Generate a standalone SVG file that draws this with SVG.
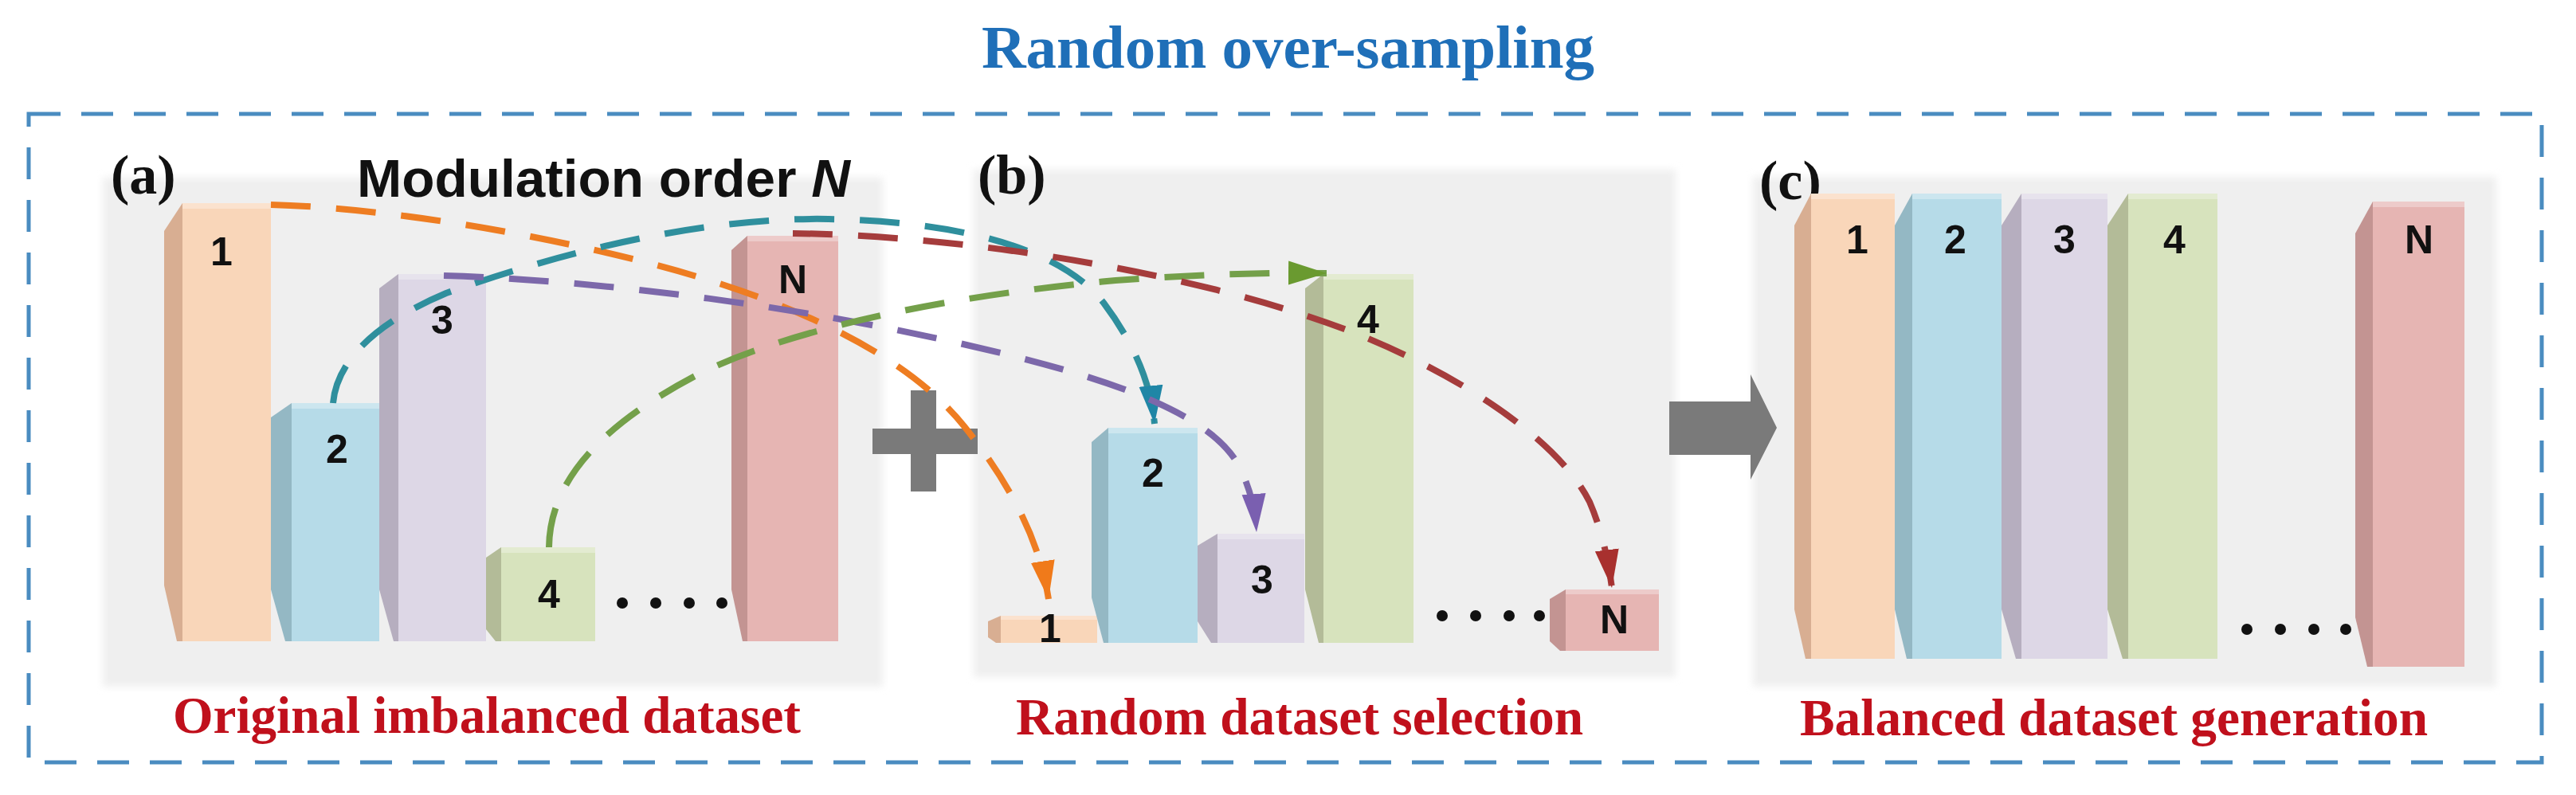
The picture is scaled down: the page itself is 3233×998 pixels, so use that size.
<svg xmlns="http://www.w3.org/2000/svg" width="3233" height="998" viewBox="0 0 3233 998">
<style>
.panel{fill:#efefef;filter:url(#soft)}
.lbl{font-family:"Liberation Sans",Arial,sans-serif;font-weight:bold;font-size:50px;fill:#111;text-anchor:middle}
.pl{font-family:"Liberation Serif","Times New Roman",serif;font-weight:bold;font-size:70px;fill:#111}
.cap{font-family:"Liberation Serif","Times New Roman",serif;font-weight:bold;font-size:65px;fill:#c0101c}
.conn{fill:none;stroke-width:8;stroke-dasharray:50 32;stroke-linecap:butt}
.top{fill:#ffffff;opacity:.3}
.dot{fill:#111}
.gray{fill:#7a7a7a}
.c1f{fill:#f9d6b9}.c1s{fill:#d8ae92}
.c2f{fill:#b6dbe8}.c2s{fill:#94b8c4}
.c3f{fill:#ddd7e6}.c3s{fill:#b6aebf}
.c4f{fill:#d7e3bd}.c4s{fill:#b3bb98}
.cNf{fill:#e6b5b3}.cNs{fill:#c39492}
</style>
<defs>
<filter id="soft" x="-2%" y="-2%" width="104%" height="104%"><feGaussianBlur stdDeviation="5"/></filter>
<marker id="hO" markerUnits="userSpaceOnUse" markerWidth="52" markerHeight="36" refX="48" refY="17" orient="auto"><path d="M0,2 L48,17 L0,32 Z" fill="#f07a1a"/></marker>
<marker id="hT" markerUnits="userSpaceOnUse" markerWidth="52" markerHeight="36" refX="48" refY="17" orient="auto"><path d="M0,2 L48,17 L0,32 Z" fill="#1f86a6"/></marker>
<marker id="hP" markerUnits="userSpaceOnUse" markerWidth="52" markerHeight="36" refX="48" refY="17" orient="auto"><path d="M0,2 L48,17 L0,32 Z" fill="#7a5fb0"/></marker>
<marker id="hG" markerUnits="userSpaceOnUse" markerWidth="52" markerHeight="36" refX="48" refY="17" orient="auto"><path d="M0,2 L48,17 L0,32 Z" fill="#6a9a30"/></marker>
<marker id="hR" markerUnits="userSpaceOnUse" markerWidth="52" markerHeight="36" refX="48" refY="17" orient="auto"><path d="M0,2 L48,17 L0,32 Z" fill="#a8302e"/></marker>
</defs>
<rect width="3233" height="998" fill="#ffffff"/>

<g id="frame">
<rect x="36" y="143" width="3154" height="814" fill="none" stroke="#4a8cc0" stroke-width="5" stroke-dasharray="40 26"/>
<text x="1232" y="85" textLength="769" lengthAdjust="spacingAndGlyphs" style="font-family:'Liberation Serif','Times New Roman',serif;font-weight:bold;font-size:77px;fill:#1f6fb8">Random over-sampling</text>
</g>

<g id="panel-a">
<rect class="panel" x="129" y="223" width="979" height="639"/>
<text class="pl" x="139" y="243">(a)</text>
<text x="448" y="247" textLength="619" lengthAdjust="spacingAndGlyphs" style="font-family:'Liberation Sans',Arial,sans-serif;font-weight:bold;font-size:67px;fill:#111">Modulation order <tspan font-style="italic">N</tspan></text>
<text class="cap" x="217" y="920" textLength="788" lengthAdjust="spacingAndGlyphs">Original imbalanced dataset</text>
</g>
<g id="panel-b">
<rect class="panel" x="1222" y="213" width="881" height="637"/>
<text class="pl" x="1227" y="243">(b)</text>
<text class="cap" x="1275" y="922" textLength="712" lengthAdjust="spacingAndGlyphs">Random dataset selection</text>
</g>
<g id="panel-c">
<rect class="panel" x="2200" y="222" width="933" height="640"/>
<text class="pl" x="2208" y="250">(c)</text>
<text class="cap" x="2259" y="923" textLength="788" lengthAdjust="spacingAndGlyphs">Balanced dataset generation</text>
</g>

<g id="a-bar1"><polygon class="c1s" points="229,255 206,290 206,735 222,805 229,805"/><rect class="c1f" x="229" y="255" width="111" height="550"/><rect class="top" x="229" y="255" width="111" height="7"/><text class="lbl" x="278" y="333">1</text></g>
<g id="a-bar2"><polygon class="c2s" points="366,506 340,524 340,740 358,805 366,805"/><rect class="c2f" x="366" y="506" width="110" height="299"/><rect class="top" x="366" y="506" width="110" height="7"/><text class="lbl" x="423" y="581">2</text></g>
<g id="a-bar3"><polygon class="c3s" points="500,344 476,362 476,740 494,805 500,805"/><rect class="c3f" x="500" y="344" width="110" height="461"/><rect class="top" x="500" y="344" width="110" height="7"/><text class="lbl" x="555" y="419">3</text></g>
<g id="a-bar4"><polygon class="c4s" points="629,687 610,700 610,790 622,805 629,805"/><rect class="c4f" x="629" y="687" width="118" height="118"/><rect class="top" x="629" y="687" width="118" height="7"/><text class="lbl" x="689" y="763">4</text></g>
<g id="a-dots"><circle class="dot" cx="781" cy="757" r="7"/><circle class="dot" cx="823" cy="757" r="7"/><circle class="dot" cx="865" cy="757" r="7"/><circle class="dot" cx="906" cy="757" r="7"/></g>
<g id="a-barN"><polygon class="cNs" points="938,296 918,314 918,740 932,805 938,805"/><rect class="cNf" x="938" y="296" width="114" height="509"/><rect class="top" x="938" y="296" width="114" height="7"/><text class="lbl" x="995" y="368">N</text></g>

<g id="plus"><rect class="gray" x="1095" y="538" width="132" height="32"/><rect class="gray" x="1143" y="490" width="32" height="127"/></g>

<g id="b-bar1"><polygon class="c1s" points="1256,773 1240,780 1240,800 1250,807 1256,807"/><rect class="c1f" x="1256" y="773" width="121" height="34"/><rect class="top" x="1256" y="773" width="121" height="5"/><text class="lbl" x="1318" y="806">1</text></g>
<g id="b-bar2"><polygon class="c2s" points="1391,537 1370,555 1370,750 1385,807 1391,807"/><rect class="c2f" x="1391" y="537" width="112" height="270"/><rect class="top" x="1391" y="537" width="112" height="7"/><text class="lbl" x="1447" y="611">2</text></g>
<g id="b-bar3"><polygon class="c3s" points="1528,670 1503,685 1503,780 1520,807 1528,807"/><rect class="c3f" x="1528" y="670" width="109" height="137"/><rect class="top" x="1528" y="670" width="109" height="7"/><text class="lbl" x="1584" y="745">3</text></g>
<g id="b-bar4"><polygon class="c4s" points="1661,344 1638,362 1638,740 1655,807 1661,807"/><rect class="c4f" x="1661" y="344" width="113" height="463"/><rect class="top" x="1661" y="344" width="113" height="7"/><text class="lbl" x="1717" y="418">4</text></g>
<g id="b-dots"><circle class="dot" cx="1810" cy="773" r="7"/><circle class="dot" cx="1852" cy="773" r="7"/><circle class="dot" cx="1894" cy="773" r="7"/><circle class="dot" cx="1932" cy="773" r="7"/></g>
<g id="b-barN"><polygon class="cNs" points="1965,740 1945,752 1945,805 1958,817 1965,817"/><rect class="cNf" x="1965" y="740" width="117" height="77"/><rect class="top" x="1965" y="740" width="117" height="6"/><text class="lbl" x="2026" y="795">N</text></g>

<g id="arrow"><polygon class="gray" points="2095,504 2197,504 2197,470 2230,537 2197,602 2197,571 2095,571"/></g>

<g id="c-bar1"><polygon class="c1s" points="2273,243 2252,283 2252,765 2266,827 2273,827"/><rect class="c1f" x="2273" y="243" width="105" height="584"/><rect class="top" x="2273" y="243" width="105" height="7"/><text class="lbl" x="2331" y="318">1</text></g>
<g id="c-bar2"><polygon class="c2s" points="2400,243 2378,283 2378,765 2393,827 2400,827"/><rect class="c2f" x="2400" y="243" width="112" height="584"/><rect class="top" x="2400" y="243" width="112" height="7"/><text class="lbl" x="2454" y="318">2</text></g>
<g id="c-bar3"><polygon class="c3s" points="2537,243 2512,283 2512,765 2530,827 2537,827"/><rect class="c3f" x="2537" y="243" width="108" height="584"/><rect class="top" x="2537" y="243" width="108" height="7"/><text class="lbl" x="2591" y="318">3</text></g>
<g id="c-bar4"><polygon class="c4s" points="2671,243 2645,283 2645,765 2664,827 2671,827"/><rect class="c4f" x="2671" y="243" width="112" height="584"/><rect class="top" x="2671" y="243" width="112" height="7"/><text class="lbl" x="2729" y="318">4</text></g>
<g id="c-dots"><circle class="dot" cx="2820" cy="790" r="7"/><circle class="dot" cx="2862" cy="790" r="7"/><circle class="dot" cx="2904" cy="790" r="7"/><circle class="dot" cx="2944" cy="790" r="7"/></g>
<g id="c-barN"><polygon class="cNs" points="2978,253 2956,293 2956,775 2971,837 2978,837"/><rect class="cNf" x="2978" y="253" width="115" height="584"/><rect class="top" x="2978" y="253" width="115" height="7"/><text class="lbl" x="3036" y="318">N</text></g>

<g id="connectors">
<path class="conn" stroke="#ee7d22" marker-end="url(#hO)" d="M340,257 C520,262 760,310 900,355 C1040,400 1150,460 1210,535 C1270,610 1305,680 1316,752"/>
<path class="conn" stroke="#2f8f9d" marker-end="url(#hT)" d="M418,506 C422,460 460,410 560,368 C700,318 880,272 1040,275 C1200,278 1330,310 1385,380 C1430,440 1445,490 1449,532"/>
<path class="conn" stroke="#7c68aa" marker-end="url(#hP)" d="M557,346 C760,352 1000,385 1200,430 C1400,475 1520,520 1555,585 C1570,615 1575,640 1577,668"/>
<path class="conn" stroke="#74a04a" marker-end="url(#hG)" d="M689,687 C690,600 760,530 880,468 C1000,410 1200,370 1400,352 C1500,345 1580,342 1665,343"/>
<path class="conn" stroke="#a53c3c" marker-end="url(#hR)" d="M995,293 C1200,295 1500,340 1700,418 C1850,478 1960,560 1995,630 C2010,665 2018,700 2023,738"/>
</g>
</svg>
